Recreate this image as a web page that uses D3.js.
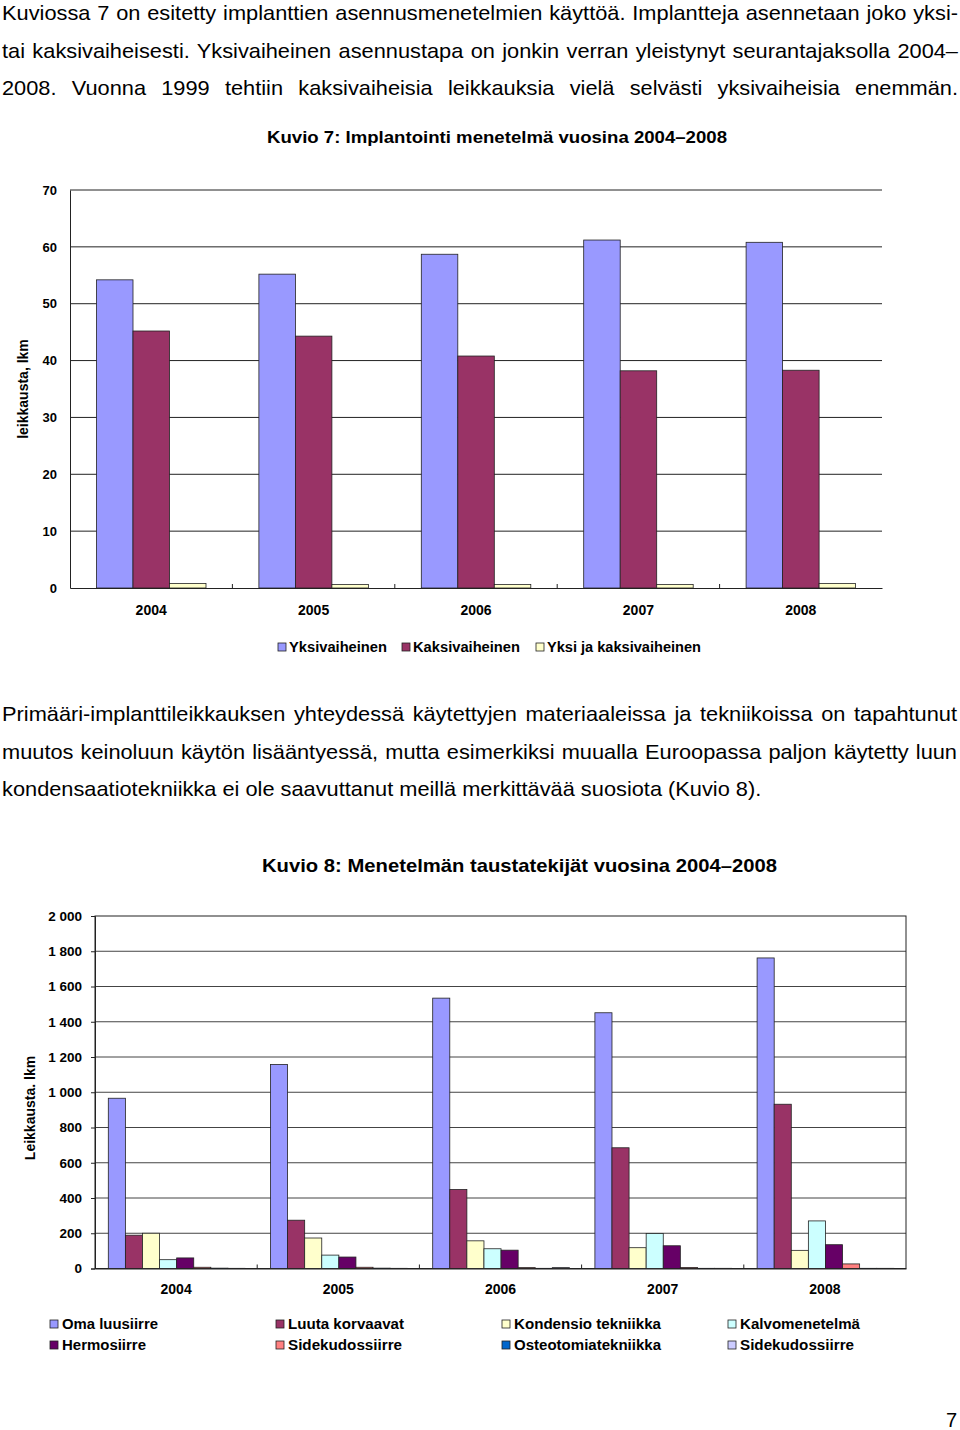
<!DOCTYPE html>
<html><head><meta charset="utf-8">
<script src="https://cdn.jsdelivr.net/npm/d3@7"></script>
<style>html,body{margin:0;padding:0;background:#fff;}svg{display:block;}</style>
</head><body>
<script>
// ---- data ----
const para1 = [
  "Kuviossa 7 on esitetty implanttien asennusmenetelmien käyttöä. Implantteja asennetaan joko yksi-",
  "tai kaksivaiheisesti. Yksivaiheinen asennustapa on jonkin verran yleistynyt seurantajaksolla 2004–",
  "2008. Vuonna 1999 tehtiin kaksivaiheisia leikkauksia vielä selvästi yksivaiheisia enemmän."
];
const para2 = [
  "Primääri-implanttileikkauksen yhteydessä käytettyjen materiaaleissa ja tekniikoissa on tapahtunut",
  "muutos keinoluun käytön lisääntyessä, mutta esimerkiksi muualla Euroopassa paljon käytetty luun",
  "kondensaatiotekniikka ei ole saavuttanut meillä merkittävää suosiota (Kuvio 8)."
];
const title1 = "Kuvio 7: Implantointi menetelmä vuosina 2004–2008";
const title2 = "Kuvio 8: Menetelmän taustatekijät vuosina 2004–2008";
const years = ["2004","2005","2006","2007","2008"];

const series1 = ["Yksivaiheinen","Kaksivaiheinen","Yksi ja kaksivaiheinen"];
const yksivaiheinen = [54.2, 55.2, 58.7, 61.2, 60.8];
const kaksivaiheinen = [45.2, 44.3, 40.8, 38.2, 38.3];
const yksiJaKaksi = [0.8, 0.6, 0.6, 0.6, 0.8];
const colors1 = ["#9999FF","#993366","#FFFFCC"];
const ticks1 = [0,10,20,30,40,50,60,70];

const series2 = ["Oma luusiirre","Luuta korvaavat","Kondensio tekniikka","Kalvomenetelmä",
                 "Hermosiirre","Sidekudossiirre","Osteotomiatekniikka","Sidekudossiirre"];
const omaLuusiirre = [966, 1158, 1534, 1451, 1762];
const luutaKorvaavat = [189, 274, 448, 685, 932];
const kondensio = [200, 173, 157, 118, 103];
const kalvomenetelma = [50, 76, 112, 199, 270];
const hermosiirre = [60, 65, 104, 129, 135];
const sidekudossiirre = [7, 7, 5, 6, 26];
const osteotomia = [2, 2, 1, 1, 1];
const sidekudossiirre2 = [1, 1, 5, 1, 1];
const colors2 = ["#9999FF","#993366","#FFFFCC","#CCFFFF","#660066","#FF8080","#0066CC","#CCCCFF"];
const ticks2 = [0,200,400,600,800,1000,1200,1400,1600,1800,2000];

// ---- drawing ----
const W = 960, H = 1430;
const FONT = "'Liberation Sans', Arial, sans-serif";
const svg = d3.select("body").append("svg").attr("width", W).attr("height", H)
  .style("font-family", FONT);
svg.append("rect").attr("width", W).attr("height", H).attr("fill", "#fff");

const K = 1.09; // horizontal stretch of body text
function justifyLine(g, text, x, y, width, size, justify) {
  const t = g.append("text").attr("transform", `translate(${x},${y}) scale(${K},1)`)
    .attr("font-size", size).attr("fill", "#000").text(text);
  if (justify) {
    const w = t.node().getComputedTextLength();
    const spaces = (text.match(/ /g) || []).length;
    if (spaces > 0) t.attr("word-spacing", (width / K - w) / spaces);
  }
  return t;
}
const txt = svg.append("g");
para1.forEach((l, i) => justifyLine(txt, l, 2, 20 + i * 37.5, 956, 20, true));
para2.forEach((l, i) => justifyLine(txt, l, 2, 721 + i * 37.5, 955, 20, i < 2));
svg.append("text").attr("x", 946).attr("y", 1427).attr("font-size", 20).text("7");

function fitText(sel, width) {
  sel.attr("textLength", width).attr("lengthAdjust", "spacingAndGlyphs");
  return sel;
}

// ===== Chart 1 =====
const c1 = svg.append("g");
fitText(c1.append("text").attr("x", 267).attr("y", 143).attr("font-size", 17)
  .attr("font-weight", "bold").text(title1), 460);

const y1 = d3.scaleLinear().domain([0, 70]).range([588, 190]);
const x1 = d3.scaleBand().domain(years).range([70, 882]);
const xs1 = d3.scaleBand().domain(series1).range([26.5, 136]);

c1.append("g").selectAll("line").data(ticks1.filter(d => d > 0)).join("line")
  .attr("x1", 70).attr("x2", 882).attr("y1", d => y1(d)).attr("y2", d => y1(d))
  .attr("stroke", "#222").attr("stroke-width", 1);

const yAxis1 = d3.axisLeft(y1).tickValues(ticks1).tickSize(0).tickPadding(13);
const ya1 = c1.append("g").attr("transform", "translate(70,0)").call(yAxis1);
ya1.select(".domain").attr("stroke", "#222");
ya1.selectAll("text").attr("font-size", 13).attr("font-weight", "bold").attr("font-family", FONT).attr("fill", "#000");

const vals1 = [yksivaiheinen, kaksivaiheinen, yksiJaKaksi];
series1.forEach((s, si) => {
  c1.append("g").selectAll("rect").data(years.map((y, i) => ({ y, v: vals1[si][i] }))).join("rect")
    .attr("x", d => x1(d.y) + xs1(s)).attr("width", xs1.bandwidth())
    .attr("y", d => y1(d.v)).attr("height", d => y1(0) - y1(d.v))
    .attr("fill", colors1[si]).attr("stroke", "#222").attr("stroke-width", 0.8);
});
const xAxis1 = d3.axisBottom(x1).tickSize(0).tickPadding(17);
const xa1 = c1.append("g").attr("transform", "translate(0,588)").call(xAxis1);
xa1.select(".domain").attr("stroke", "#222");
xa1.selectAll("text").attr("font-size", 14).attr("font-weight", "bold").attr("font-family", FONT).attr("fill", "#000");
c1.append("g").selectAll("line").data(years.slice(1)).join("line")
  .attr("x1", d => x1(d)).attr("x2", d => x1(d)).attr("y1", 588).attr("y2", 584)
  .attr("stroke", "#222");

c1.append("text").attr("transform", "translate(28,389) rotate(-90)").attr("text-anchor", "middle")
  .attr("font-size", 14).attr("font-weight", "bold").text("leikkausta, lkm");

const leg1x = [278, 402, 536];
const leg1w = [98, 107, 154];
series1.forEach((s, i) => {
  c1.append("rect").attr("x", leg1x[i]).attr("y", 643).attr("width", 8).attr("height", 8)
    .attr("fill", colors1[i]).attr("stroke", "#222").attr("stroke-width", 0.8);
  fitText(c1.append("text").attr("x", leg1x[i] + 11).attr("y", 652).attr("font-size", 14)
    .attr("font-weight", "bold").text(s), leg1w[i]);
});

// ===== Chart 2 =====
const c2 = svg.append("g");
fitText(c2.append("text").attr("x", 262).attr("y", 872).attr("font-size", 19)
  .attr("font-weight", "bold").text(title2), 515);

const y2 = d3.scaleLinear().domain([0, 2000]).range([1268.5, 916]);
const x2 = d3.scaleBand().domain(years).range([95, 906]);
const xs2 = d3.scaleBand().domain(d3.range(8)).range([13.3, 150]);

c2.append("g").selectAll("line").data(ticks2.filter(d => d > 0 && d < 2000)).join("line")
  .attr("x1", 95).attr("x2", 906).attr("y1", d => y2(d)).attr("y2", d => y2(d))
  .attr("stroke", "#444").attr("stroke-width", 1);
c2.append("rect").attr("x", 95).attr("y", y2(2000)).attr("width", 811).attr("height", y2(0) - y2(2000))
  .attr("fill", "none").attr("stroke", "#222").attr("stroke-width", 1);

const fmt = d => d3.format(",")(d).replace(/,/g, " ");
const yAxis2 = d3.axisLeft(y2).tickValues(ticks2).tickSize(4).tickPadding(9).tickFormat(fmt);
const ya2 = c2.append("g").attr("transform", "translate(95,0)").call(yAxis2);
ya2.select(".domain").attr("stroke", "#222");
ya2.selectAll(".tick line").attr("stroke", "#222");
ya2.selectAll("text").attr("font-size", 13.5).attr("font-weight", "bold").attr("font-family", FONT).attr("fill", "#000");

const vals2 = [omaLuusiirre, luutaKorvaavat, kondensio, kalvomenetelma, hermosiirre, sidekudossiirre, osteotomia, sidekudossiirre2];
series2.forEach((s, si) => {
  c2.append("g").selectAll("rect").data(years.map((y, i) => ({ y, v: vals2[si][i] }))).join("rect")
    .attr("x", d => x2(d.y) + xs2(si)).attr("width", xs2.bandwidth())
    .attr("y", d => y2(d.v)).attr("height", d => y2(0) - y2(d.v))
    .attr("fill", colors2[si]).attr("stroke", "#222").attr("stroke-width", 0.8);
});
const xAxis2 = d3.axisBottom(x2).tickSize(0).tickPadding(16);
const xa2 = c2.append("g").attr("transform", "translate(0,1268.5)").call(xAxis2);
xa2.select(".domain").attr("stroke", "#222");
xa2.selectAll("text").attr("font-size", 14).attr("font-weight", "bold").attr("font-family", FONT).attr("fill", "#000");
c2.append("g").selectAll("line").data(years.slice(1)).join("line")
  .attr("x1", d => x2(d)).attr("x2", d => x2(d)).attr("y1", 1268.5).attr("y2", 1264.5)
  .attr("stroke", "#222");

c2.append("text").attr("transform", "translate(35,1108) rotate(-90)").attr("text-anchor", "middle")
  .attr("font-size", 14).attr("font-weight", "bold").text("Leikkausta. lkm");

const leg2x = [50, 276, 502, 728];
const leg2w = [96, 116, 147, 120, 84, 114, 147, 114];
series2.forEach((s, i) => {
  const col = i % 4, row = Math.floor(i / 4);
  const ly = 1320 + row * 21;
  c2.append("rect").attr("x", leg2x[col]).attr("y", ly).attr("width", 8).attr("height", 8)
    .attr("fill", colors2[i]).attr("stroke", "#222").attr("stroke-width", 0.8);
  fitText(c2.append("text").attr("x", leg2x[col] + 12).attr("y", ly + 9).attr("font-size", 14)
    .attr("font-weight", "bold").text(s), leg2w[i]);
});
</script>
</body></html>
